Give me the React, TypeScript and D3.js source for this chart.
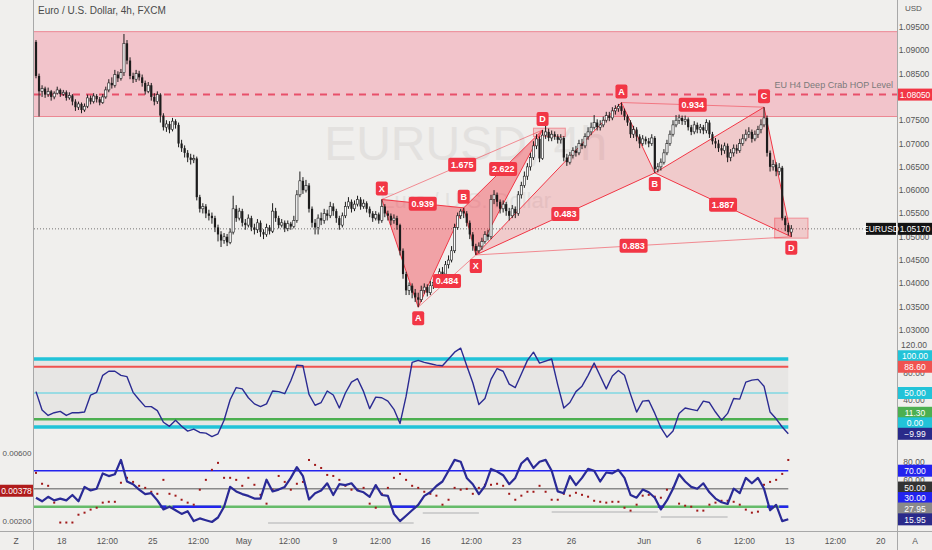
import * as React from "react";
import { useEffect, useRef } from "react";
import * as d3 from "d3";

// EURUSD 4h candles, each bar opens at the previous close
const firstOpen = 1.0918;
const closes = [
  1.0845, 1.0812, 1.0818, 1.0805, 1.0812, 1.08, 1.0808, 1.0815, 1.0806, 1.081,
  1.0798, 1.0803, 1.079, 1.0778, 1.0785, 1.0772, 1.078, 1.0798, 1.079, 1.0802,
  1.0795, 1.0788, 1.08, 1.0815, 1.083, 1.0825, 1.0848, 1.084, 1.0852, 1.0915,
  1.0878, 1.0845, 1.0838, 1.085, 1.0842, 1.083, 1.0812, 1.0825, 1.08, 1.079,
  1.0805, 1.076, 1.0735, 1.0742, 1.073, 1.0748, 1.074, 1.07, 1.069, 1.068,
  1.067, 1.0665, 1.0668, 1.0585, 1.056, 1.0565, 1.055, 1.0545, 1.054, 1.052,
  1.0505, 1.0492, 1.05, 1.0488, 1.051, 1.056, 1.054, 1.0555, 1.053, 1.0525,
  1.054, 1.052, 1.0515, 1.053, 1.051, 1.0505, 1.052, 1.0512, 1.0555, 1.054,
  1.0525, 1.053, 1.0518, 1.0528, 1.0522, 1.0535, 1.059, 1.062, 1.06, 1.061,
  1.056, 1.053, 1.052, 1.054, 1.0535, 1.055, 1.0545, 1.0565, 1.0555, 1.054,
  1.0525, 1.0545, 1.0565, 1.0575, 1.056, 1.057, 1.058, 1.0565, 1.0572, 1.056,
  1.055, 1.054, 1.0548, 1.0535, 1.0565, 1.055, 1.0545, 1.0535, 1.054, 1.0525,
  1.047, 1.042, 1.0385, 1.0395, 1.038, 1.037, 1.0365, 1.0385, 1.0392, 1.038,
  1.0395, 1.0402, 1.041, 1.0425, 1.042, 1.044, 1.045, 1.047, 1.052, 1.0545,
  1.0555, 1.055, 1.053, 1.0505, 1.048, 1.047, 1.048, 1.049, 1.0505, 1.05,
  1.058, 1.059, 1.0575, 1.056, 1.057, 1.0555, 1.0545, 1.056, 1.055, 1.059,
  1.061, 1.063, 1.065, 1.067, 1.0695, 1.071, 1.0668, 1.0718, 1.0725, 1.0712,
  1.072, 1.0715, 1.0708, 1.0712, 1.067, 1.066, 1.0675, 1.0685, 1.068, 1.07,
  1.0695, 1.0715, 1.0725, 1.0735, 1.0745, 1.0735, 1.074, 1.075, 1.076, 1.0755,
  1.077, 1.0775, 1.078, 1.077, 1.0758, 1.0745, 1.072, 1.073, 1.0715, 1.07,
  1.071, 1.0705, 1.07, 1.0712, 1.0645, 1.065, 1.066, 1.068, 1.07, 1.072,
  1.074, 1.075, 1.0755, 1.0748, 1.0752, 1.0735, 1.0725, 1.074, 1.073, 1.0735,
  1.0728, 1.0745, 1.072, 1.0705, 1.07, 1.069, 1.0685, 1.0695, 1.067, 1.068,
  1.069, 1.0685, 1.07, 1.071, 1.072, 1.0725, 1.071, 1.072, 1.073, 1.074,
  1.0755, 1.068, 1.065, 1.0655, 1.064, 1.0648, 1.054, 1.0525, 1.051, 1.0517,
];
const highs = [
  1.0922, 1.085, 1.0825, 1.0822, 1.082, 1.0815, 1.0812, 1.0822, 1.0818, 1.0815,
  1.0814, 1.081, 1.0806, 1.0795, 1.079, 1.0788, 1.0786, 1.0805, 1.0803, 1.0808,
  1.0806, 1.08, 1.0806, 1.0822, 1.0838, 1.0842, 1.0858, 1.0855, 1.086, 1.0935,
  1.0922, 1.0885, 1.0852, 1.0858, 1.0856, 1.0848, 1.0835, 1.0832, 1.083, 1.0808,
  1.0812, 1.0808, 1.0765, 1.075, 1.0748, 1.0755, 1.0752, 1.0745, 1.0708, 1.0696,
  1.0686, 1.0678, 1.0676, 1.0672, 1.059, 1.0572, 1.057, 1.0558, 1.0552, 1.0545,
  1.0526, 1.0512, 1.0508, 1.0506, 1.0518, 1.0588, 1.0568, 1.0562, 1.056, 1.0538,
  1.0548, 1.0545, 1.0528, 1.0538, 1.0535, 1.0516, 1.0528, 1.0525, 1.0572, 1.0562,
  1.0545, 1.0538, 1.0535, 1.0535, 1.0532, 1.0545, 1.06, 1.064, 1.0628, 1.0622,
  1.0615, 1.0565, 1.0538, 1.0548, 1.0552, 1.056, 1.0558, 1.0575, 1.0572, 1.056,
  1.0545, 1.0552, 1.0575, 1.0585, 1.058, 1.0578, 1.0588, 1.0585, 1.058, 1.0576,
  1.0565, 1.0555, 1.0555, 1.0552, 1.058, 1.057, 1.0556, 1.055, 1.0548, 1.0545,
  1.0528, 1.0475, 1.0425, 1.0402, 1.04, 1.0388, 1.038, 1.0395, 1.04, 1.0398,
  1.0405, 1.041, 1.042, 1.0432, 1.0435, 1.0448, 1.046, 1.048, 1.0528, 1.0552,
  1.056, 1.0562, 1.0555, 1.0535, 1.051, 1.0485, 1.0488, 1.0498, 1.0512, 1.0515,
  1.059, 1.06, 1.0595, 1.058, 1.0578, 1.0575, 1.0562, 1.0568, 1.0565, 1.0598,
  1.0618, 1.064, 1.0658, 1.068, 1.0705, 1.072, 1.0715, 1.0729, 1.0741, 1.0732,
  1.0728, 1.0726, 1.072, 1.072, 1.0716, 1.0678, 1.0682, 1.0692, 1.0695, 1.0708,
  1.071, 1.0722, 1.0735, 1.0745, 1.0761, 1.0752, 1.075, 1.0758, 1.0768, 1.0768,
  1.0778, 1.0782, 1.0785, 1.0788, 1.0775, 1.0762, 1.075, 1.0738, 1.0735, 1.072,
  1.0718, 1.0715, 1.0712, 1.072, 1.0716, 1.0658, 1.0668, 1.0688, 1.0708, 1.0728,
  1.075, 1.0761, 1.0762, 1.076, 1.076, 1.0756, 1.074, 1.0748, 1.0745, 1.0742,
  1.074, 1.0752, 1.075, 1.0725, 1.0712, 1.0708, 1.0698, 1.0702, 1.07, 1.0688,
  1.0698, 1.0698, 1.071, 1.072, 1.073, 1.0735, 1.073, 1.0728, 1.0738, 1.0752,
  1.0778, 1.076, 1.0685, 1.0665, 1.066, 1.0658, 1.0652, 1.0545, 1.053, 1.0525,
];
const lows = [
  1.084, 1.0758, 1.08, 1.0798, 1.08, 1.0792, 1.0795, 1.0805, 1.08, 1.0802,
  1.0792, 1.0794, 1.0782, 1.077, 1.0772, 1.0765, 1.0768, 1.0776, 1.0784, 1.0786,
  1.0788, 1.0782, 1.0785, 1.0796, 1.081, 1.0818, 1.082, 1.0832, 1.0835, 1.0845,
  1.087, 1.0838, 1.083, 1.0832, 1.0835, 1.0822, 1.0805, 1.0808, 1.0792, 1.0782,
  1.0785, 1.0745, 1.0728, 1.0725, 1.0722, 1.0726, 1.0732, 1.0692, 1.0682, 1.067,
  1.066, 1.0655, 1.0658, 1.0578, 1.0552, 1.055, 1.054, 1.0535, 1.0528, 1.051,
  1.049, 1.0478, 1.0485, 1.048, 1.0484, 1.0505, 1.0532, 1.0535, 1.0522, 1.0515,
  1.052, 1.0512, 1.0505, 1.0508, 1.05, 1.0495, 1.05, 1.0505, 1.0508, 1.0532,
  1.0518, 1.052, 1.051, 1.0512, 1.0515, 1.0518, 1.053, 1.0585, 1.0592, 1.0595,
  1.0552, 1.052, 1.0505, 1.0505, 1.0525, 1.0528, 1.0535, 1.054, 1.0545, 1.053,
  1.0515, 1.052, 1.054, 1.056, 1.0552, 1.0555, 1.0565, 1.0558, 1.056, 1.0552,
  1.0542, 1.0532, 1.0535, 1.0528, 1.053, 1.0542, 1.0535, 1.0525, 1.0528, 1.0515,
  1.046, 1.041, 1.0375, 1.0375, 1.0368, 1.036, 1.0349, 1.036, 1.0378, 1.0372,
  1.0375, 1.0388, 1.0395, 1.0405, 1.0412, 1.0415, 1.0432, 1.0445, 1.0465, 1.0515,
  1.0538, 1.054, 1.0522, 1.0495, 1.047, 1.0461, 1.0465, 1.0472, 1.0485, 1.0492,
  1.0495, 1.057, 1.0565, 1.055, 1.0552, 1.0545, 1.0535, 1.054, 1.054, 1.0545,
  1.0582, 1.0605, 1.0622, 1.0642, 1.0665, 1.0688, 1.066, 1.0665, 1.071, 1.0705,
  1.0705, 1.0708, 1.07, 1.07, 1.0662, 1.0652, 1.0655, 1.0668, 1.0672, 1.0675,
  1.0688, 1.069, 1.0708, 1.0718, 1.073, 1.0728, 1.0728, 1.0735, 1.0745, 1.0748,
  1.075, 1.0762, 1.0768, 1.0762, 1.075, 1.0738, 1.0712, 1.0712, 1.0705, 1.069,
  1.0695, 1.0698, 1.0692, 1.0695, 1.0637, 1.0638, 1.0642, 1.0655, 1.0675, 1.0695,
  1.0715, 1.0735, 1.0742, 1.074, 1.074, 1.0728, 1.0718, 1.072, 1.0722, 1.0722,
  1.072, 1.0722, 1.0712, 1.0698, 1.069, 1.0682, 1.0675, 1.0678, 1.066, 1.0662,
  1.0672, 1.0678, 1.068, 1.0695, 1.0705, 1.0712, 1.0702, 1.0705, 1.0712, 1.0722,
  1.0735, 1.0672, 1.064, 1.0642, 1.063, 1.0632, 1.0535, 1.0512, 1.0503, 1.05,
];

const timeTicks = [8.5, 23.5, 38.5, 53.5, 68.5, 83.5, 98.5, 113.5, 128.5, 143.5, 158.5, 176.5, 200.5, 218.5, 233.5, 248.5, 263.5, 278.5];
const timeLabels = ["18", "12:00", "25", "12:00", "May", "12:00", "9", "12:00", "16", "12:00", "23", "26", "Jun", "6", "12:00", "13", "12:00", "20"];
const priceTicks = [1.095, 1.09, 1.085, 1.08, 1.075, 1.07, 1.065, 1.06, 1.055, 1.05, 1.045, 1.04, 1.035, 1.03];

const zoneTop = 1.094;
const zoneBottom = 1.0758;
const hopLevel = 1.0805;
const lastPrice = 1.0517;

const pointNames = ["X", "A", "B", "C", "D"];
const pattern1Bars = [114, 126, 141, 145, 167];
const pattern1Prices = [1.058, 1.0349, 1.0562, 1.0461, 1.0729];
const pattern1Ratios = ["0.939", "0.484", "2.622", "1.675"];
const pattern2Bars = [145, 193, 204, 240, 249];
const pattern2Prices = [1.0461, 1.0788, 1.0637, 1.0778, 1.05];
const pattern2Ratios = ["0.483", "0.934", "1.887", "0.883"];
const targetBars = [[164, 174.5], [243.5, 254.5]];
const targetPrices = [[1.0733, 1.0715], [1.054, 1.0497]];

// indicator values, one every 2 bars
const stepBars = 2;
const oscValues = [
  52, 25, 17, 21, 23, 17, 21, 21, 22, 47,
  51, 76, 82, 82, 76, 74, 51, 40, 30, 30,
  24, 7, 1, 10, 1, -6, -3, -8, -9, -14,
  -10, 10, 40, 58, 56, 43, 34, 30, 34, 53,
  52, 49, 68, 91, 90, 48, 32, 36, 53, 47,
  28, 50, 66, 71, 52, 27, 44, 43, 38, 26,
  5, 45, 95, 98, 95, 93, 91, 90, 100, 110,
  116, 90, 65, 33, 42, 70, 86, 82, 63, 58,
  78, 98, 110, 94, 97, 100, 62, 28, 36, 52,
  60, 76, 94, 75, 56, 75, 83, 76, 48, 22,
  38, 39, 20, -1, -15, -6, 20, 28, 26, 24,
  38, 36, 22, 10, 20, 42, 41, 66, 69, 70,
  60, 22, 12, 0, -10,
];
const oscLevels = [100, 88.6, 50, 11.3, 0];
const oscGrid = [120, 80, 40];
const oscLast = -9.99;

const momValues = [
  40, 36, 41, 37, 39, 37, 43, 36, 52, 48,
  50, 67, 64, 66, 82, 58, 55, 49, 44, 45,
  37, 27, 30, 26, 22, 25, 14, 17, 15, 13,
  18, 30, 52, 47, 44, 42, 39, 39, 60, 47,
  49, 52, 62, 74, 64, 38, 45, 48, 56, 43,
  55, 54, 56, 48, 46, 41, 54, 43, 42, 22,
  14, 20, 26, 32, 42, 46, 53, 58, 70, 82,
  80, 62, 55, 44, 53, 72, 69, 65, 55, 62,
  78, 84, 73, 80, 82, 70, 47, 45, 64, 54,
  62, 72, 70, 58, 68, 67, 71, 62, 43, 40,
  49, 46, 40, 27, 37, 50, 66, 58, 52, 50,
  56, 46, 39, 35, 33, 50, 45, 62, 56, 62,
  50, 26, 32, 14, 16,
];
const momLevels = [70, 50, 30];
const momGrid = [80, 60];
const momExtra = 27.95;
const momLast = 15.95;
const momFloorStart = [76.5, 127.5, 206, 170];
const momFloorEnd = [124.5, 146, 228, 205];
const momFloorLevel = [12, 23, 18.5, 24];

const dotValues = [
  0.00483, 0.00419, 0.00407, 0.00308, 0.00191, 0.00191, 0.00191, 0.00237, 0.00249, 0.00267,
  0.00278, 0.00308, 0.00313, 0.00313, 0.00425, 0.00454, 0.0043, 0.00407, 0.00395, 0.00372,
  0.0036, 0.00442, 0.0036, 0.00349, 0.00325, 0.00308, 0.00296, 0.00384, 0.00442, 0.00501,
  0.00542, 0.00454, 0.00454, 0.00442, 0.00407, 0.00454, 0.00413, 0.00354, 0.00302, 0.00384,
  0.00465, 0.0043, 0.00384, 0.00419, 0.0043, 0.00559, 0.0053, 0.00512, 0.00471, 0.00465,
  0.00442, 0.00407, 0.00384, 0.00384, 0.00395, 0.00302, 0.00278, 0.0036, 0.00395, 0.00454,
  0.00477, 0.00442, 0.00407, 0.00395, 0.00372, 0.0036, 0.00349, 0.00296, 0.00325, 0.00395,
  0.00384, 0.00389, 0.0036, 0.00395, 0.00413, 0.00413, 0.00419, 0.00407, 0.0036, 0.00325,
  0.00349, 0.00372, 0.00372, 0.00407, 0.00372, 0.00325, 0.00325, 0.0036, 0.00349, 0.00366,
  0.00354, 0.00343, 0.00319, 0.00313, 0.00308, 0.00313, 0.00313, 0.00278, 0.00261, 0.00296,
  0.00349, 0.00354, 0.00343, 0.00337, 0.00384, 0.00395, 0.00302, 0.0029, 0.00284, 0.00261,
  0.00261, 0.00296, 0.00308, 0.00319, 0.00319, 0.00313, 0.00296, 0.00267, 0.00249, 0.00255,
  0.00413, 0.0043, 0.00442, 0.00477, 0.00559,
];
const dotGrid = [0.006, 0.002];
const dotLast = 0.00378;

const FONT = "'Liberation Sans', Arial, sans-serif";
const RED = "#f23645";

const Chart: React.FC = () => {
  const svgRef = useRef<SVGSVGElement | null>(null);

  useEffect(() => {
    const svg = d3.select(svgRef.current);
    svg.selectAll("*").remove();

    const W = 932;
    const H = 550;
    const left = 34;
    const right = 897;

    const x = d3.scaleLinear().domain([0, 284.5]).range([36, 899]);
    const yP = d3.scaleLinear().domain([1.03, 1.095]).range([330, 27]);
    const yO = d3.scaleLinear().domain([0, 100]).range([427, 359]);
    const yM = d3.scaleLinear().domain([30, 70]).range([506.7, 470.7]);
    const yD = d3.scaleLinear().domain([0.002, 0.006]).range([521, 453]);
    const fmtP = d3.format(".5f");
    const fmt2 = d3.format(".2f");

    svg.append("rect").attr("width", W).attr("height", H).attr("fill", "#f0efed");

    const defs = svg.append("defs");
    defs.append("clipPath").attr("id", "mainClip")
      .append("rect").attr("x", left).attr("y", 20).attr("width", right - left).attr("height", 318);
    defs.append("clipPath").attr("id", "subClip")
      .append("rect").attr("x", left).attr("y", 340).attr("width", right - left).attr("height", 190);

    // frame
    svg.append("line").attr("x1", 33.5).attr("x2", 33.5).attr("y1", 0).attr("y2", H).attr("stroke", "#a8a8a8");
    svg.append("line").attr("x1", right + 0.5).attr("x2", right + 0.5).attr("y1", 0).attr("y2", H).attr("stroke", "#a8a8a8");
    svg.append("line").attr("x1", 0).attr("x2", W).attr("y1", 531.5).attr("y2", 531.5).attr("stroke", "#a8a8a8");

    svg.append("text").attr("x", 38).attr("y", 14).attr("font-family", FONT).attr("font-size", 10)
      .attr("fill", "#4a4a4a").text("Euro / U.S. Dollar, 4h, FXCM");

    const main = svg.append("g").attr("clip-path", "url(#mainClip)");

    // watermark
    main.append("text").attr("x", (left + right) / 2).attr("y", 160).attr("text-anchor", "middle")
      .attr("font-family", FONT).attr("font-size", 48).attr("fill", "#e3e1df").text("EURUSD, 4h");
    main.append("text").attr("x", (left + right) / 2).attr("y", 208).attr("text-anchor", "middle")
      .attr("font-family", FONT).attr("font-size", 22).attr("fill", "#e3e1df").text("Euro / U.S. Dollar");

    // supply zone and HOP level
    main.append("rect").attr("x", left).attr("width", right - left)
      .attr("y", yP(zoneTop)).attr("height", yP(zoneBottom) - yP(zoneTop)).attr("fill", "#f2c4cb");
    [zoneTop, zoneBottom].forEach((p) => {
      main.append("line").attr("x1", left).attr("x2", right).attr("y1", yP(p)).attr("y2", yP(p))
        .attr("stroke", "#ec8893").attr("stroke-width", 1);
    });
    main.append("line").attr("x1", left).attr("x2", right).attr("y1", yP(hopLevel)).attr("y2", yP(hopLevel))
      .attr("stroke", "#e8506a").attr("stroke-width", 2).attr("stroke-dasharray", "7,6");
    main.append("text").attr("x", right - 4).attr("y", yP(hopLevel) - 7).attr("text-anchor", "end")
      .attr("font-family", FONT).attr("font-size", 9).attr("fill", "#7a7a7a").text("EU H4 Deep Crab HOP Level");

    main.append("line").attr("x1", left).attr("x2", right).attr("y1", yP(lastPrice)).attr("y2", yP(lastPrice))
      .attr("stroke", "#555").attr("stroke-width", 0.8).attr("stroke-dasharray", "1,2");

    // harmonic patterns
    const patterns = [
      { bars: pattern1Bars, prices: pattern1Prices, ratios: pattern1Ratios, fill: 0.42 },
      { bars: pattern2Bars, prices: pattern2Prices, ratios: pattern2Ratios, fill: 0.2 },
    ];
    patterns.forEach((pt) => {
      const pts = pt.bars.map((b, j) => [x(b), yP(pt.prices[j])] as [number, number]);
      [[0, 1, 2], [2, 3, 4]].forEach((tri) => {
        main.append("path").attr("d", "M" + tri.map((k) => pts[k].join(",")).join("L") + "Z")
          .attr("fill", RED).attr("fill-opacity", pt.fill)
          .attr("stroke", RED).attr("stroke-width", 1);
      });
      [[1, 3], [0, 4]].forEach(([a, b]) => {
        main.append("line").attr("x1", pts[a][0]).attr("y1", pts[a][1]).attr("x2", pts[b][0]).attr("y2", pts[b][1])
          .attr("stroke", RED).attr("stroke-opacity", 0.55).attr("stroke-width", 1);
      });
    });
    targetBars.forEach((tb, j) => {
      main.append("rect").attr("x", x(tb[0])).attr("width", x(tb[1]) - x(tb[0]))
        .attr("y", yP(targetPrices[j][0])).attr("height", yP(targetPrices[j][1]) - yP(targetPrices[j][0]))
        .attr("fill", RED).attr("fill-opacity", 0.2).attr("stroke", RED).attr("stroke-opacity", 0.45);
    });

    // candles
    const candles = main.append("g");
    closes.forEach((c, i) => {
      const o = i === 0 ? firstOpen : closes[i - 1];
      const cx = x(i);
      candles.append("line").attr("x1", cx).attr("x2", cx).attr("y1", yP(highs[i])).attr("y2", yP(lows[i]))
        .attr("stroke", "#1c1c1c").attr("stroke-width", 1);
      const top = yP(Math.max(o, c));
      const h = Math.max(1, Math.abs(yP(o) - yP(c)));
      const up = c >= o;
      candles.append("rect").attr("x", cx - 1.1).attr("width", 2.2).attr("y", top).attr("height", h)
        .attr("fill", up ? "#fafafa" : "#1c1c1c").attr("stroke", "#1c1c1c").attr("stroke-width", up ? 0.6 : 0);
    });

    // pattern labels
    const tag = (cx: number, cy: number, w: number, label: string) => {
      main.append("rect").attr("x", cx - w / 2).attr("y", cy - 7).attr("width", w).attr("height", 14)
        .attr("rx", 2).attr("fill", RED);
      main.append("text").attr("x", cx).attr("y", cy + 3.3).attr("text-anchor", "middle")
        .attr("font-family", FONT).attr("font-size", 9).attr("font-weight", "bold").attr("fill", "#fff").text(label);
    };
    patterns.forEach((pt) => {
      const pts = pt.bars.map((b, j) => [x(b), yP(pt.prices[j])] as [number, number]);
      [[0, 2], [1, 3], [2, 4], [0, 4]].forEach(([a, b], j) => {
        tag((pts[a][0] + pts[b][0]) / 2, (pts[a][1] + pts[b][1]) / 2, 28, pt.ratios[j]);
      });
      const xHigh = pt.prices[0] > pt.prices[1];
      pts.forEach((p, j) => {
        const isHigh = j % 2 === 0 ? xHigh : !xHigh;
        tag(p[0], p[1] + (isHigh ? -11 : 11), 12, pointNames[j]);
      });
    });

    // right price axis
    const axisText = (g: any, y: number, label: string, fill = "#555") =>
      g.append("text").attr("x", 914).attr("y", y + 3).attr("text-anchor", "middle")
        .attr("font-family", FONT).attr("font-size", 8.5).attr("fill", fill).text(label);
    const axisBox = (y: number, label: string, bg: string, x0 = 898, w = 34) => {
      svg.append("rect").attr("x", x0).attr("y", y - 6).attr("width", w).attr("height", 12).attr("fill", bg);
      svg.append("text").attr("x", x0 + w / 2).attr("y", y + 3.2).attr("text-anchor", "middle")
        .attr("font-family", FONT).attr("font-size", 8.5).attr("fill", "#fff").text(label);
    };
    svg.append("text").attr("x", 905).attr("y", 11).attr("font-family", FONT).attr("font-size", 8)
      .attr("fill", "#555").text("USD");
    priceTicks.forEach((t) => axisText(svg, yP(t), fmtP(t)));
    axisBox(yP(hopLevel), fmtP(hopLevel), RED);
    axisBox(yP(lastPrice), fmtP(lastPrice), "#131313");
    axisBox(yP(lastPrice), "EURUSD", "#131313", 866, 30);

    // label collision: push labels up from the bottom
    const nudge = (ys: number[], gap: number) => {
      const order = ys.map((_, i) => i).sort((a, b) => ys[b] - ys[a]);
      const out = ys.slice();
      for (let j = 1; j < order.length; j++) {
        const prev = out[order[j - 1]];
        if (out[order[j]] > prev - gap) out[order[j]] = prev - gap;
      }
      return out;
    };

    // oscillator pane
    const sub = svg.append("g").attr("clip-path", "url(#subClip)");
    const lastX = x((oscValues.length - 1) * stepBars);
    sub.append("rect").attr("x", left).attr("width", lastX - left)
      .attr("y", yO(100)).attr("height", yO(0) - yO(100)).attr("fill", "#000").attr("fill-opacity", 0.035);
    const oscColors = ["#22c3d8", "#ef5350", "#4dd0e1", "#4caf50", "#22c3d8"];
    const oscWidths = [3.5, 2, 1, 2.5, 3.5];
    oscLevels.forEach((v, j) => {
      sub.append("line").attr("x1", left).attr("x2", lastX).attr("y1", yO(v)).attr("y2", yO(v))
        .attr("stroke", oscColors[j]).attr("stroke-width", oscWidths[j]);
    });
    const oscLine = d3.line<number>().x((_, k) => x(k * stepBars)).y((v) => yO(v));
    sub.append("path").datum(oscValues).attr("d", oscLine).attr("fill", "none")
      .attr("stroke", "#2b2b92").attr("stroke-width", 1.4).attr("stroke-linejoin", "round");

    // momentum pane
    const momColors = ["#2323ee", "#8a8a8a", "#66bb6a"];
    const momWidths = [1.5, 1.5, 2.5];
    momLevels.forEach((v, j) => {
      sub.append("line").attr("x1", left).attr("x2", lastX).attr("y1", yM(v)).attr("y2", yM(v))
        .attr("stroke", momColors[j]).attr("stroke-width", momWidths[j]);
    });
    let runStart = -1;
    momValues.forEach((v, k) => {
      const below = v < 30;
      if (below && runStart < 0) runStart = k;
      if ((!below || k === momValues.length - 1) && runStart >= 0) {
        const end = below ? k : k - 1;
        sub.append("line").attr("x1", x((runStart - 0.5) * stepBars)).attr("x2", x(Math.min(end + 0.5, momValues.length - 1) * stepBars))
          .attr("y1", yM(30)).attr("y2", yM(30)).attr("stroke", "#2323ee").attr("stroke-width", 2.5);
        runStart = -1;
      }
    });
    momFloorStart.forEach((s, j) => {
      sub.append("line").attr("x1", x(s)).attr("x2", x(momFloorEnd[j]))
        .attr("y1", yM(momFloorLevel[j])).attr("y2", yM(momFloorLevel[j]))
        .attr("stroke", "#c4c4c4").attr("stroke-width", 1.5);
    });
    dotValues.forEach((v, k) => {
      sub.append("rect").attr("x", x(k * stepBars) - 1).attr("y", yD(v) - 1).attr("width", 2).attr("height", 2)
        .attr("fill", "#a01818");
    });
    const momLine = d3.line<number>().x((_, k) => x(k * stepBars)).y((v) => yM(v));
    sub.append("path").datum(momValues).attr("d", momLine).attr("fill", "none")
      .attr("stroke", "#2a2a96").attr("stroke-width", 2.2).attr("stroke-linejoin", "round");

    // pane axes
    oscGrid.forEach((t) => axisText(svg, yO(t), fmt2(t)));
    const oscVals = [...oscLevels, oscLast];
    const oscBg = ["#22c3d8", "#ef5350", "#22c3d8", "#4caf50", "#22c3d8", "#2a2a8a"];
    const oscYs = nudge(oscVals.map((v) => yO(v)), 10.5);
    oscVals.forEach((v, j) => axisBox(oscYs[j], fmt2(v), oscBg[j]));

    momGrid.forEach((t) => axisText(svg, yM(t), fmt2(t)));
    const momVals = [...momLevels, momExtra, momLast];
    const momBg = ["#2323ee", "#333333", "#2323ee", "#8a8a8a", "#2a2a8a"];
    const momYs = nudge(momVals.map((v) => yM(v)), 10.5);
    momVals.forEach((v, j) => axisBox(momYs[j], fmt2(v), momBg[j]));

    dotGrid.forEach((t) => {
      svg.append("text").attr("x", 17).attr("y", yD(t) + 3).attr("text-anchor", "middle")
        .attr("font-family", FONT).attr("font-size", 8).attr("fill", "#555").text(d3.format(".5f")(t));
    });
    axisBox(yD(dotLast), d3.format(".5f")(dotLast), "#b01c1c", 0, 33);

    // time axis
    timeTicks.forEach((t, j) => {
      svg.append("text").attr("x", x(t)).attr("y", 544).attr("text-anchor", "middle")
        .attr("font-family", FONT).attr("font-size", 8.5).attr("fill", "#555").text(timeLabels[j]);
    });
    svg.append("text").attr("x", 16).attr("y", 544).attr("text-anchor", "middle")
      .attr("font-family", FONT).attr("font-size", 8.5).attr("fill", "#555").text("Z");
    svg.append("text").attr("x", 915).attr("y", 544).attr("text-anchor", "middle")
      .attr("font-family", FONT).attr("font-size", 8.5).attr("fill", "#555").text("A");
  }, []);

  return (
    <svg ref={svgRef} width={932} height={550} style={{ position: "absolute", left: 0, top: 0 }}></svg>
  );
};

export default function App() {
  return <Chart />;
}
